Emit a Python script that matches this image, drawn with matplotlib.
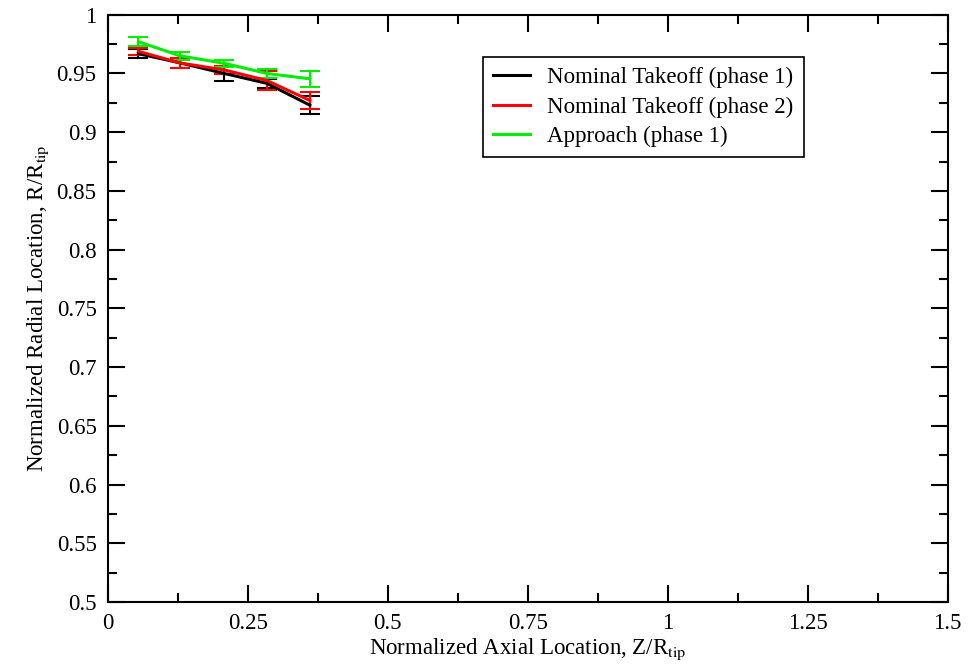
import matplotlib
matplotlib.use("Agg")
import matplotlib.pyplot as plt
from matplotlib.ticker import MultipleLocator
from matplotlib.lines import Line2D

plt.rcParams['font.family'] = ['Liberation Serif', 'DejaVu Serif']
plt.rcParams['mathtext.fontset'] = 'stix'

# data
z = [0.055, 0.129, 0.208, 0.284, 0.361]

r_to1 = [0.9668, 0.959, 0.950, 0.9416, 0.923]
e_to1 = [0.004, 0.004, 0.0065, 0.004, 0.0077]

r_to2 = [0.9688, 0.9589, 0.953, 0.944, 0.927]
e_to2 = [0.003, 0.004, 0.0035, 0.008, 0.0075]

r_app = [0.977, 0.965, 0.9586, 0.950, 0.9454]
e_app = [0.0037, 0.0036, 0.003, 0.0036, 0.0067]

labels = ["Nominal Takeoff (phase 1)", "Nominal Takeoff (phase 2)", "Approach (phase 1)"]
colors = ["black", "red", "#00ee00"]

fig = plt.figure(figsize=(9.77, 6.65), dpi=100)
ax = fig.add_axes([0.1102, 0.0947, 0.8598, 0.8832])

handles = []
for r, e, lab, c in zip([r_to1, r_to2, r_app], [e_to1, e_to2, e_app], labels, colors):
    ax.errorbar(z, r, yerr=e, color=c, lw=2.2, elinewidth=1.5, capsize=7, capthick=1.5)
    handles.append(Line2D([], [], color=c, lw=2.2, label=lab))

ax.set_xlim(0, 1.5)
ax.set_ylim(0.5, 1.0)
ax.xaxis.set_minor_locator(MultipleLocator(0.125))
ax.yaxis.set_minor_locator(MultipleLocator(0.025))
ax.set_xticks([0, 0.25, 0.5, 0.75, 1.0, 1.25, 1.5])
ax.set_xticklabels(["0", "0.25", "0.5", "0.75", "1", "1.25", "1.5"])
ax.set_yticks([0.5, 0.55, 0.6, 0.65, 0.7, 0.75, 0.8, 0.85, 0.9, 0.95, 1.0])
ax.set_yticklabels(["0.5", "0.55", "0.6", "0.65", "0.7", "0.75", "0.8", "0.85", "0.9", "0.95", "1"])

ax.tick_params(which='both', direction='in', top=True, right=True, width=1.5, labelsize=16.5)
ax.tick_params(which='major', length=12.5, pad=8)
ax.tick_params(which='minor', length=6.3)
for s in ax.spines.values():
    s.set_linewidth(1.5)

ax.set_xlabel(r"Normalized Axial Location, Z/R$_{\mathrm{tip}}$", fontsize=16.5, labelpad=2)
ax.set_ylabel(r"Normalized Radial Location, R/R$_{\mathrm{tip}}$", fontsize=16.5, labelpad=4)

leg = ax.legend(handles=handles, loc='upper left', bbox_to_anchor=(0.447, 0.928), fontsize=16.5,
                fancybox=False, framealpha=1, edgecolor='black', handlelength=1.6,
                handletextpad=0.75, borderpad=0.45, labelspacing=0.35, borderaxespad=0)
leg.get_frame().set_linewidth(1.2)

fig.savefig("out.png", dpi=100)
